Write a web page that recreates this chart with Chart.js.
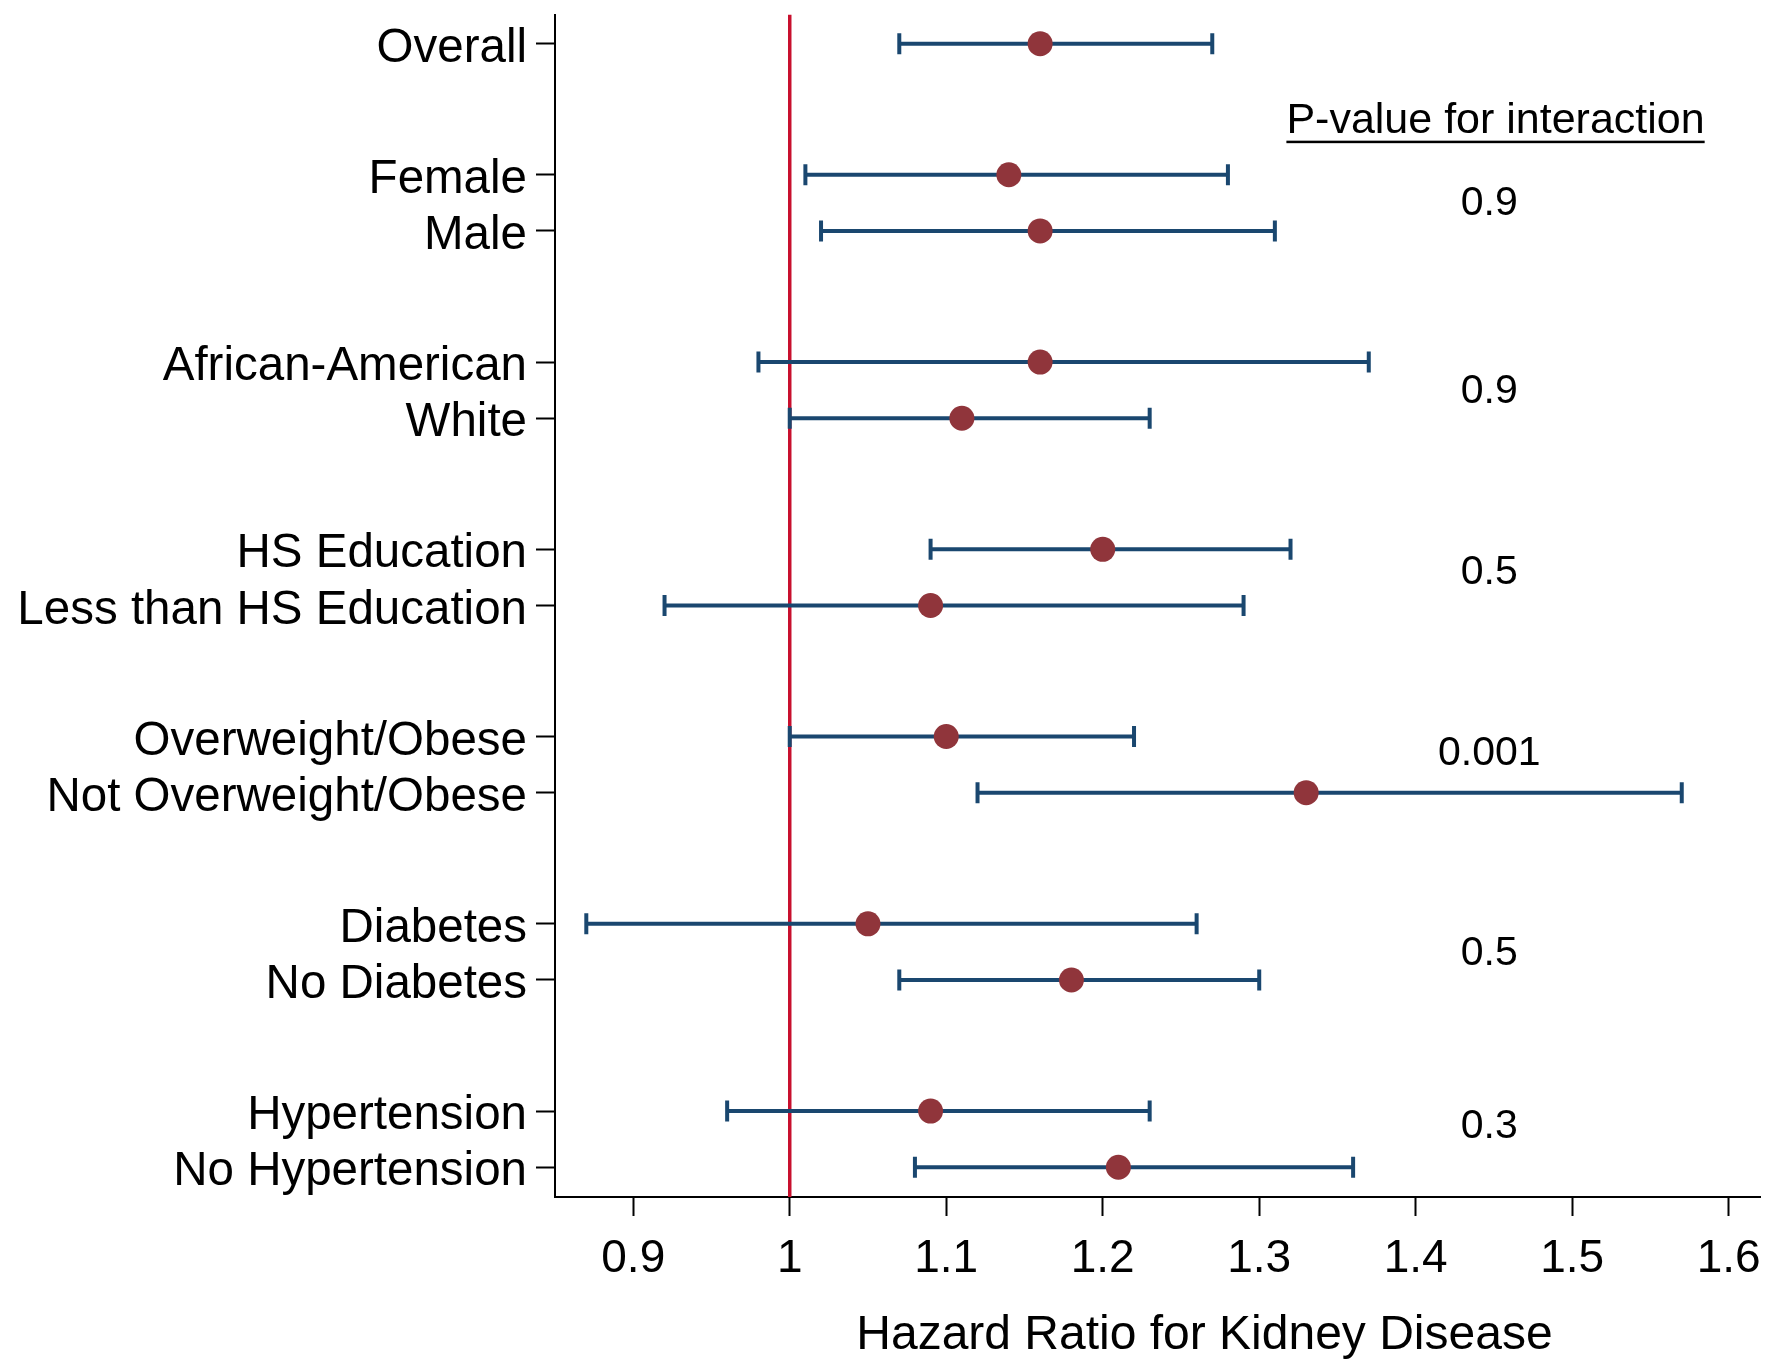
<!DOCTYPE html>
<html>
<head>
<meta charset="utf-8">
<script src="https://cdn.jsdelivr.net/npm/chart.js@4/dist/chart.umd.min.js"></script>
<style>
html, body { margin: 0; padding: 0; background: #fff; }
#wrap { width: 1787px; height: 1362px; }
</style>
</head>
<body>
<div id="wrap"><canvas id="chart"></canvas></div>
<script>
// rows of the forest plot, top to bottom
const rowLabels = ['Overall', 'Female', 'Male', 'African-American', 'White', 'HS Education',
  'Less than HS Education', 'Overweight/Obese', 'Not Overweight/Obese', 'Diabetes',
  'No Diabetes', 'Hypertension', 'No Hypertension'];
const rowPos = [0, 2.333, 3.333, 5.667, 6.667, 9, 10, 12.333, 13.333, 15.667, 16.667, 19, 20];
const hazard = [1.16, 1.14, 1.16, 1.16, 1.11, 1.20, 1.09, 1.10, 1.33, 1.05, 1.18, 1.09, 1.21];
const ciLow  = [1.07, 1.01, 1.02, 0.98, 1.00, 1.09, 0.92, 1.00, 1.12, 0.87, 1.07, 0.96, 1.08];
const ciHigh = [1.27, 1.28, 1.31, 1.37, 1.23, 1.32, 1.29, 1.22, 1.57, 1.26, 1.30, 1.23, 1.36];
const xTicks = [0.9, 1, 1.1, 1.2, 1.3, 1.4, 1.5, 1.6];
const refValue = 1;
const xTitle = 'Hazard Ratio for Kidney Disease';
const xTitleCenter = 1.265;

// interaction p-values, one per pair
const pHeader = 'P-value for interaction';
const pValues = ['0.9', '0.9', '0.5', '0.001', '0.5', '0.3'];
const pValueY = [2.85, 6.2, 9.42, 12.63, 16.19, 19.27];
const pHeaderY = 1.37;
const pHeaderX = 1.451;
const pColumnX = 1.447;

const yMin = -0.52, yMax = 20.53;
const FONT = '"Liberation Sans", Arial, Helvetica, sans-serif';
const NAVY = '#1a476f';
const MAROON = '#90353b';
const RED = '#c8102e';

const textPlugin = {
  id: 'pValues',
  afterDatasetsDraw(chart) {
    const { ctx } = chart;
    const x = chart.scales.x, y = chart.scales.y;
    ctx.save();
    ctx.fillStyle = '#000';
    ctx.textAlign = 'center';
    ctx.textBaseline = 'middle';
    ctx.font = '43px ' + FONT;
    const hx = x.getPixelForValue(pHeaderX);
    const hy = y.getPixelForValue(pHeaderY);
    ctx.fillText(pHeader, hx, hy);
    const w = ctx.measureText(pHeader).width;
    ctx.fillRect(hx - w / 2, hy + 20, w, 2.5);
    ctx.font = '41px ' + FONT;
    pValues.forEach((p, i) => {
      ctx.fillText(p, x.getPixelForValue(pColumnX), y.getPixelForValue(pValueY[i]));
    });
    // axis title, sits off-centre in the original
    ctx.font = '48px ' + FONT;
    ctx.textBaseline = 'alphabetic';
    ctx.fillText(xTitle, x.getPixelForValue(xTitleCenter), x.bottom - 13);
    ctx.restore();
  }
};

const datasets = [];

datasets.push({
  type: 'scatter',
  data: rowPos.map((p, i) => ({ x: hazard[i], y: p })),
  pointRadius: 12.5,
  pointBackgroundColor: MAROON,
  pointBorderWidth: 0
});

rowPos.forEach((p, i) => {
  datasets.push({
    type: 'line',
    showLine: true,
    data: [{ x: ciLow[i], y: p }, { x: ciHigh[i], y: p }],
    borderColor: NAVY,
    borderWidth: 4,
    pointStyle: 'line',
    pointRotation: 90,
    pointRadius: 10.5,
    pointBorderColor: NAVY,
    pointBorderWidth: 4
  });
});

datasets.push({
  type: 'line',
  showLine: true,
  data: [{ x: refValue, y: yMin }, { x: refValue, y: yMax }],
  borderColor: RED,
  borderWidth: 3.5,
  pointRadius: 0
});

new Chart(document.getElementById('chart'), {
  type: 'scatter',
  data: { datasets: datasets },
  options: {
    responsive: true,
    maintainAspectRatio: false,
    animation: false,
    layout: { padding: { top: 13, right: 27, left: 0, bottom: 0 } },
    plugins: { legend: { display: false }, tooltip: { enabled: false } },
    scales: {
      x: {
        type: 'linear',
        min: 0.85,
        max: 1.62,
        afterBuildTicks: s => { s.ticks = xTicks.map(v => ({ value: v })); },
        afterFit: s => { s.height = 165; s.paddingLeft = 0; s.paddingRight = 0; },
        border: { display: true, color: '#000', width: 2 },
        grid: { drawOnChartArea: false, drawTicks: true, tickLength: 19, tickWidth: 2, tickColor: '#000' },
        ticks: {
          color: '#000',
          font: { size: 46, family: FONT },
          padding: 16,
          maxRotation: 0,
          autoSkip: false,
          callback: v => String(v)
        }
      },
      y: {
        type: 'linear',
        reverse: true,
        min: yMin,
        max: yMax,
        afterBuildTicks: s => { s.ticks = rowPos.map(v => ({ value: v })); },
        afterFit: s => { s.width = 555; s.paddingTop = 0; s.paddingBottom = 0; },
        border: { display: true, color: '#000', width: 2 },
        grid: { drawOnChartArea: false, drawTicks: true, tickLength: 19, tickWidth: 2, tickColor: '#000' },
        ticks: {
          color: '#000',
          font: { size: 47.5, family: FONT },
          padding: 9,
          labelOffset: 5,
          autoSkip: false,
          callback: (v, i) => rowLabels[i]
        }
      }
    }
  },
  plugins: [textPlugin]
});
</script>
</body>
</html>
